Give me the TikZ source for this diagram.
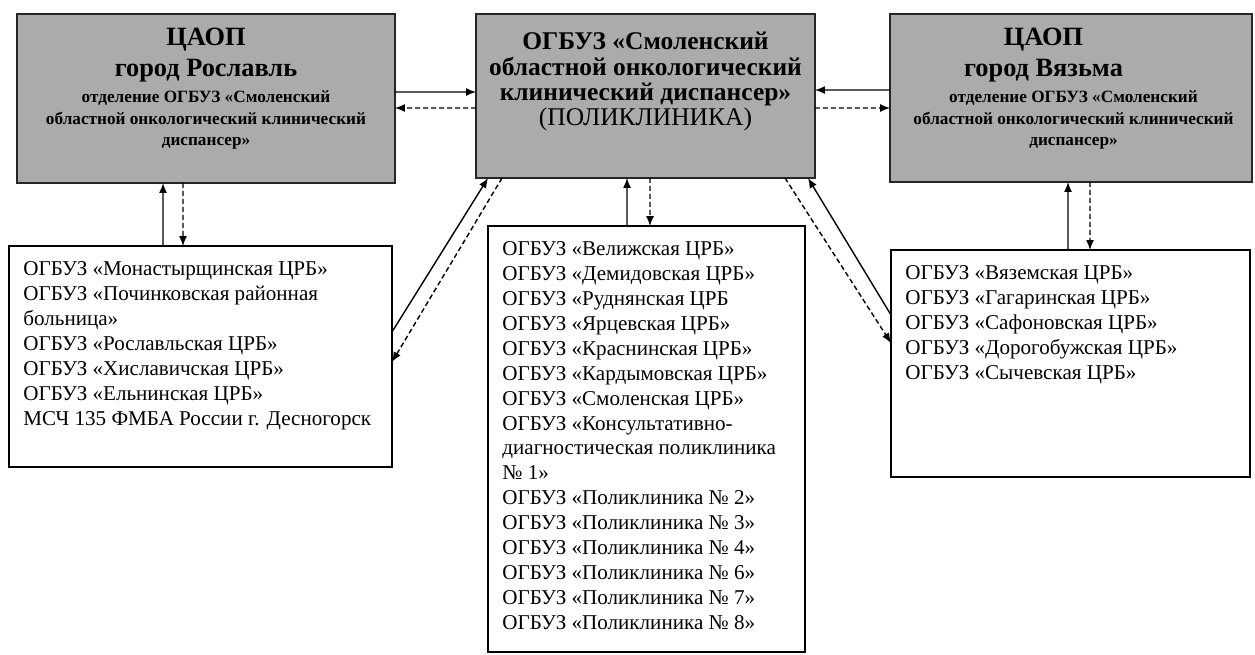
\documentclass[tikz,border=0pt]{standalone}
\usepackage{fontspec}
\setmainfont{Liberation Serif}
\usetikzlibrary{arrows.meta, positioning}
\tikzset{%
    >={Latex[width=1.6mm,length=2mm]},
    topo/.style     = {rectangle, draw=black!85, line width=1pt, fill=black!33,
                       inner sep=0pt, outer sep=0pt},
    lista/.style    = {rectangle, draw=black, line width=0.7pt, fill=white,
                       inner sep=0pt, outer sep=0pt},
    titulo/.style   = {anchor=north, align=center, inner sep=0pt,
                       font=\fontsize{15}{17.5}\selectfont\bfseries},
    subtitulo/.style= {align=center, inner sep=0pt,
                       font=\fontsize{9.8}{12.2}\selectfont\bfseries},
    textolista/.style = {anchor=north west, align=left, inner sep=0pt,
                       font=\fontsize{12}{14.2}\selectfont},
    cheia/.style    = {->, line width=0.8pt},
    tracejada/.style= {->, line width=0.8pt, dash pattern=on 1mm off 0.6mm},
}

\begin{document}
\begin{tikzpicture}[x=0.02cm, y=-0.02cm]
    \useasboundingbox (0,0) rectangle (1255,654);

    % blocos superiores
    \node (ros) [topo, minimum width=7.56cm, minimum height=3.38cm] at (206,98.5) {};
    \node (onc) [topo, minimum width=6.78cm, minimum height=3.28cm] at (645.5,96) {};
    \node (vyz) [topo, minimum width=7.24cm, minimum height=3.36cm] at (1071,98) {};

    \node (rostit) [titulo] at ([yshift=-2.8mm]ros.north) {ЦАОП\\город Рославль};
    \node (rossub) [subtitulo, below=1.6mm of rostit]
        {отделение ОГБУЗ «Смоленский\\областной онкологический клинический\\диспансер»};
    \node (onctit) [titulo, font=\fontsize{14.5}{14.4}\selectfont] at ([yshift=-3.6mm]onc.north)
        {\textbf{ОГБУЗ «Смоленский}\\\textbf{областной онкологический}\\\textbf{клинический диспансер»}\\(ПОЛИКЛИНИКА)};
    \node (vyztit) [titulo] at ([xshift=-5.5mm, yshift=-2.8mm]vyz.north) {ЦАОП\\город Вязьма};
    \node (vyzsub) [subtitulo, below=1.6mm of vyztit, xshift=6mm]
        {отделение ОГБУЗ «Смоленский\\областной онкологический клинический\\диспансер»};

    % listas
    \node (roslist) [lista, minimum width=7.66cm, minimum height=4.42cm] at (200.5,356.5) {};
    \node (onclist) [lista, minimum width=6.34cm, minimum height=8.52cm] at (646.5,439) {};
    \node (vyzlist) [lista, minimum width=7.18cm, minimum height=4.54cm] at (1070.5,363.5) {};

    \node (rostxt) [textolista] at ([shift={(2.8mm,-3mm)}]roslist.north west)
        {ОГБУЗ «Монастырщинская ЦРБ»\\ОГБУЗ «Починковская районная\\больница»\\ОГБУЗ «Рославльская ЦРБ»\\ОГБУЗ «Хиславичская ЦРБ»\\ОГБУЗ «Ельнинская ЦРБ»\\МСЧ 135 ФМБА России г. Десногорск};
    \node (onctxt) [textolista] at ([shift={(2.8mm,-3mm)}]onclist.north west)
        {ОГБУЗ «Велижская ЦРБ»\\ОГБУЗ «Демидовская ЦРБ»\\ОГБУЗ «Руднянская ЦРБ\\ОГБУЗ «Ярцевская ЦРБ»\\ОГБУЗ «Краснинская ЦРБ»\\ОГБУЗ «Кардымовская ЦРБ»\\ОГБУЗ «Смоленская ЦРБ»\\ОГБУЗ «Консультативно-\\диагностическая поликлиника\\№ 1»\\ОГБУЗ «Поликлиника № 2»\\ОГБУЗ «Поликлиника № 3»\\ОГБУЗ «Поликлиника № 4»\\ОГБУЗ «Поликлиника № 6»\\ОГБУЗ «Поликлиника № 7»\\ОГБУЗ «Поликлиника № 8»};
    \node (vyztxt) [textolista] at ([shift={(2.8mm,-3mm)}]vyzlist.north west)
        {ОГБУЗ «Вяземская ЦРБ»\\ОГБУЗ «Гагаринская ЦРБ»\\ОГБУЗ «Сафоновская ЦРБ»\\ОГБУЗ «Дорогобужская ЦРБ»\\ОГБУЗ «Сычевская ЦРБ»};

    % ligacoes horizontais
    \draw[cheia]     ([yshift=1.3mm]ros.east)  -- ([yshift=0.8mm]onc.west);
    \draw[tracejada] ([yshift=-2.4mm]onc.west) -- ([yshift=-1.9mm]ros.east);
    \draw[cheia]     ([yshift=1.6mm]vyz.west)  -- ([yshift=1.2mm]onc.east);
    \draw[tracejada] ([yshift=-2.4mm]onc.east) -- ([yshift=-2mm]vyz.west);

    % ligacoes verticais
    \draw[cheia]     ([xshift=-7.5mm]roslist.north) -- ([xshift=-8.6mm]ros.south);
    \draw[tracejada] ([xshift=-4.6mm]ros.south)     -- ([xshift=-3.5mm]roslist.north);
    \draw[cheia]     ([xshift=-3.9mm]onclist.north) -- ([xshift=-3.7mm]onc.south);
    \draw[tracejada] ([xshift=0.9mm]onc.south)      -- ([xshift=0.7mm]onclist.north);
    \draw[cheia]     ([xshift=-0.5mm]vyzlist.north) -- ([xshift=-0.6mm]vyz.south);
    \draw[tracejada] ([xshift=3.8mm]vyz.south)      -- ([xshift=3.9mm]vyzlist.north);

    % ligacoes diagonais
    \draw[cheia]     ([yshift=4.9mm]roslist.east)     -- ([xshift=2.4mm]onc.south west);
    \draw[tracejada] ([xshift=5.2mm]onc.south west)   -- ([yshift=-1.1mm]roslist.east);
    \draw[cheia]     ([yshift=9.7mm]vyzlist.west)     -- ([xshift=-1.4mm]onc.south east);
    \draw[tracejada] ([xshift=-6mm]onc.south east)    -- ([yshift=4.1mm]vyzlist.west);
\end{tikzpicture}
\end{document}
